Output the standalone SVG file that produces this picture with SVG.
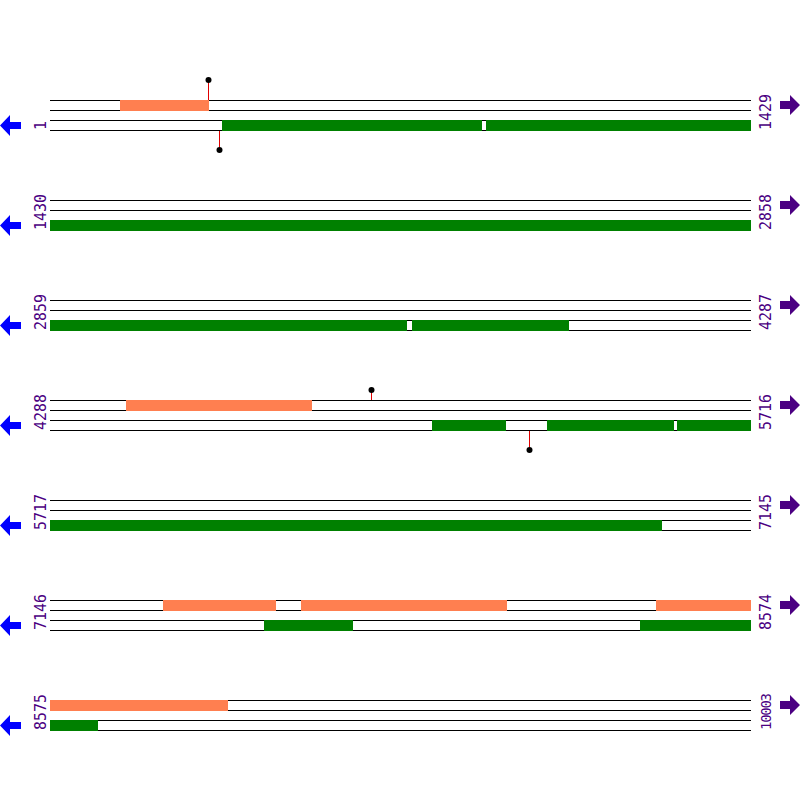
<svg xmlns="http://www.w3.org/2000/svg" width="800" height="800" viewBox="0 0 800 800">
<style>
.ln{stroke:#000;stroke-width:1}
.fw{fill:#FF7F50}
.rv{fill:#008000}
.stem{stroke:#E00000;stroke-width:1}
.lbl{font-family:"DejaVu Sans Mono",monospace;font-size:15px;fill:#4B0082}
.la{fill:#0000FF}
.ra{fill:#4B0082}
</style>
<defs>
<g id="lines">
<line class="ln" x1="50" y1="100.5" x2="751" y2="100.5"/>
<line class="ln" x1="50" y1="110.5" x2="751" y2="110.5"/>
<line class="ln" x1="50" y1="120.5" x2="751" y2="120.5"/>
<line class="ln" x1="50" y1="130.5" x2="751" y2="130.5"/>
<polygon class="la" points="0,125.5 10,115 10,122 21,122 21,129 10,129 10,136"/>
<polygon class="ra" points="800,105 790,95 790,101 780,101 780,109 790,109 790,115"/>
</g>
</defs>
<g id="track1">
<use href="#lines"/>
<rect class="fw" x="120" y="100" width="89" height="11"/>
<rect class="rv" x="222" y="120" width="260" height="11"/>
<rect class="rv" x="486" y="120" width="265" height="11"/>
<line class="stem" x1="208.5" y1="80" x2="208.5" y2="100"/>
<circle cx="208.5" cy="80" r="3"/>
<line class="stem" x1="219.5" y1="131" x2="219.5" y2="150"/>
<circle cx="219.5" cy="150" r="3"/>
<text class="lbl" transform="translate(46,130) rotate(-90)">1</text>
<text class="lbl" transform="translate(771,130) rotate(-90)">1429</text>
</g>
<g id="track2" transform="translate(0,100)">
<use href="#lines"/>
<rect class="rv" x="50" y="120" width="701" height="11"/>
<text class="lbl" transform="translate(46,130) rotate(-90)">1430</text>
<text class="lbl" transform="translate(771,130) rotate(-90)">2858</text>
</g>
<g id="track3" transform="translate(0,200)">
<use href="#lines"/>
<rect class="rv" x="50" y="120" width="357" height="11"/>
<rect class="rv" x="412" y="120" width="157" height="11"/>
<text class="lbl" transform="translate(46,130) rotate(-90)">2859</text>
<text class="lbl" transform="translate(771,130) rotate(-90)">4287</text>
</g>
<g id="track4" transform="translate(0,300)">
<use href="#lines"/>
<rect class="fw" x="126" y="100" width="186" height="11"/>
<rect class="rv" x="432" y="120" width="74" height="11"/>
<rect class="rv" x="547" y="120" width="127" height="11"/>
<rect class="rv" x="677" y="120" width="74" height="11"/>
<line class="stem" x1="371.5" y1="90" x2="371.5" y2="100"/>
<circle cx="371.5" cy="90" r="3"/>
<line class="stem" x1="529.5" y1="131" x2="529.5" y2="150"/>
<circle cx="529.5" cy="150" r="3"/>
<text class="lbl" transform="translate(46,130) rotate(-90)">4288</text>
<text class="lbl" transform="translate(771,130) rotate(-90)">5716</text>
</g>
<g id="track5" transform="translate(0,400)">
<use href="#lines"/>
<rect class="rv" x="50" y="120" width="612" height="11"/>
<text class="lbl" transform="translate(46,130) rotate(-90)">5717</text>
<text class="lbl" transform="translate(771,130) rotate(-90)">7145</text>
</g>
<g id="track6" transform="translate(0,500)">
<use href="#lines"/>
<rect class="fw" x="163" y="100" width="113" height="11"/>
<rect class="fw" x="301" y="100" width="206" height="11"/>
<rect class="fw" x="656" y="100" width="95" height="11"/>
<rect class="rv" x="264" y="120" width="89" height="11"/>
<rect class="rv" x="640" y="120" width="111" height="11"/>
<text class="lbl" transform="translate(46,130) rotate(-90)">7146</text>
<text class="lbl" transform="translate(771,130) rotate(-90)">8574</text>
</g>
<g id="track7" transform="translate(0,600)">
<use href="#lines"/>
<rect class="fw" x="50" y="100" width="178" height="11"/>
<rect class="rv" x="50" y="120" width="48" height="11"/>
<text class="lbl" transform="translate(46,130) rotate(-90)">8575</text>
<text class="lbl" transform="translate(771,130) rotate(-90)" style="font-size:14px;letter-spacing:-1.3px">10003</text>
</g>
</svg>
